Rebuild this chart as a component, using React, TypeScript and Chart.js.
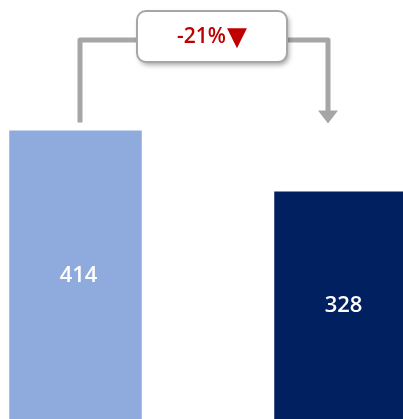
import React, { useEffect, useRef } from "react";
import { Chart, registerables } from "chart.js";

Chart.register(...registerables);

const categories = ["Before", "After"];
const values = [414, 328];
const barColors = ["#8FAADC", "#002060"];
const changeText = "-21%";
const changeArrow = "▼";

const OX = 57;

const bracketPlugin = {
  id: "bracket",
  afterDatasetsDraw(chart: any) {
    const ctx = chart.ctx as CanvasRenderingContext2D;
    const meta = chart.getDatasetMeta(0);
    const b1 = meta.data[0];
    const b2 = meta.data[1];
    const x1 = b1.x + 4.5;
    const x2 = b2.x - 12.5;
    const yTop = 40;
    const y1 = b1.y - 8;
    const y2 = b2.y - 68;
    ctx.save();
    ctx.strokeStyle = "#A6A6A6";
    ctx.lineWidth = 5;
    ctx.lineJoin = "round";
    ctx.beginPath();
    ctx.moveTo(x1, y1);
    ctx.lineTo(x1, yTop);
    ctx.lineTo(x2, yTop);
    ctx.lineTo(x2, y2 - 12);
    ctx.stroke();
    ctx.fillStyle = "#A6A6A6";
    ctx.beginPath();
    ctx.moveTo(x2 - 10, y2 - 13);
    ctx.lineTo(x2 + 10, y2 - 13);
    ctx.lineTo(x2, y2);
    ctx.closePath();
    ctx.fill();

    // label box
    const bx = 137 + OX, by = 11, bw = 150, bh = 51, r = 9;
    ctx.shadowColor = "rgba(0,0,0,0.35)";
    ctx.shadowBlur = 5;
    ctx.shadowOffsetX = 2;
    ctx.shadowOffsetY = 3;
    ctx.fillStyle = "#FFFFFF";
    ctx.beginPath();
    ctx.roundRect(bx, by, bw, bh, r);
    ctx.fill();
    ctx.shadowColor = "transparent";
    ctx.lineWidth = 2;
    ctx.strokeStyle = "#A6A6A6";
    ctx.stroke();
    ctx.fillStyle = "#C00000";
    ctx.font = "600 21px 'Open Sans'";
    ctx.textAlign = "left";
    ctx.textBaseline = "alphabetic";
    ctx.fillText(changeText, 177 + OX, 43);
    const w = ctx.measureText(changeText).width;
    ctx.font = "26px 'DejaVu Sans'";
    ctx.fillText(changeArrow, 177 + OX + w + 1, 45);

    // bar value labels
    ctx.fillStyle = "#FFFFFF";
    ctx.textAlign = "center";
    ctx.textBaseline = "middle";
    ctx.font = "600 22px 'Open Sans'";
    meta.data.forEach((bar: any, i: number) => {
      const visBottom = 419;
      ctx.fillText(String(values[i]), bar.x + 3, (bar.y + visBottom) / 2 + 1);
    });
    ctx.restore();
  },
};

export default function App() {
  const ref = useRef<HTMLCanvasElement>(null);
  useEffect(() => {
    if (!ref.current) return;
    const chart = new Chart(ref.current, {
      type: "bar",
      data: {
        labels: categories,
        datasets: [
          {
            data: values,
            backgroundColor: barColors,
            barPercentage: 0.5,
            categoryPercentage: 1,
          },
        ],
      },
      options: {
        animation: false,
        responsive: false,
        maintainAspectRatio: false,
        layout: { padding: 0 },
        plugins: { legend: { display: false }, tooltip: { enabled: false } },
        scales: {
          x: { display: false, offset: true },
          y: { display: false, min: 0, max: 598 },
        },
      },
      plugins: [bracketPlugin],
    });
    return () => chart.destroy();
  }, []);
  return (
    <div
      style={{
        position: "fixed",
        left: 0,
        top: 0,
        width: 403,
        height: 419,
        overflow: "hidden",
        background: "#fff",
      }}
    >
      <canvas
        ref={ref}
        width={530}
        height={424}
        style={{ position: "absolute", left: -OX, top: 0, width: 530, height: 424 }}
      />
    </div>
  );
}
